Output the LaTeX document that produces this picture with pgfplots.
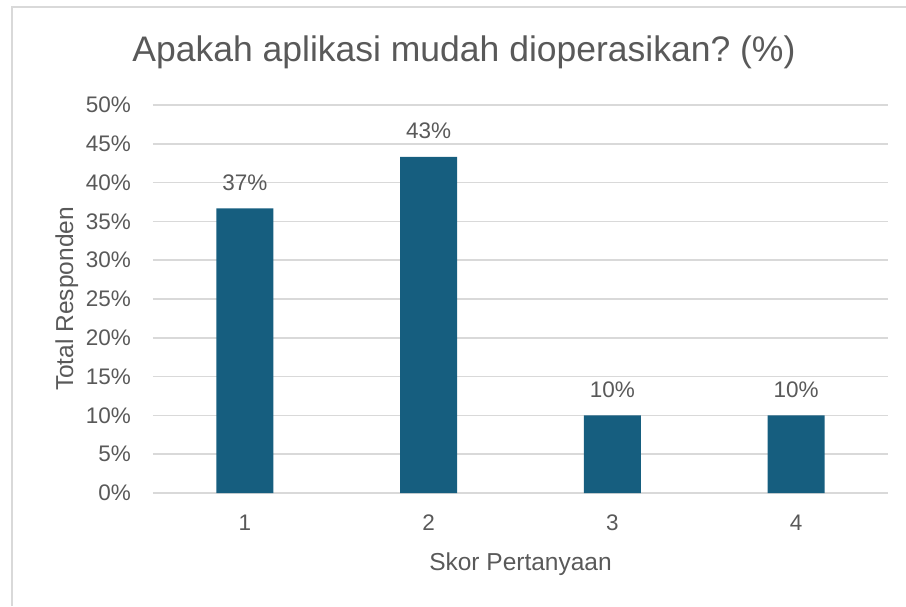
\documentclass[border=0pt]{standalone}
\usepackage{pgfplots}
\pgfplotsset{compat=1.18}
\usepackage{fontspec}
\setmainfont{Liberation Sans}
\definecolor{barc}{HTML}{165E7F}
\definecolor{txt}{HTML}{595959}
\definecolor{grd}{HTML}{D9D9D9}
\begin{document}
\frenchspacing
\begin{tikzpicture}[x=1pt,y=1pt]
\useasboundingbox (0,0) rectangle (906,606);
\draw[grd, line width=1.5pt] (12,0) -- (12,599) -- (906,599);
\begin{axis}[
  at={(153pt,113pt)}, anchor=south west,
  width=735pt, height=388pt, scale only axis,
  xmin=0.5, xmax=4.5, ymin=0, ymax=50,
  ybar, bar width=57pt,
  xtick={1,2,3,4}, ytick={0,5,...,50},
  /pgf/number format/assume math mode=true,
  yticklabel={\pgfmathprintnumber{\tick}\%},
  major tick length=0pt,
  axis x line=bottom, axis y line=left,
  x axis line style={grd, line width=1.5pt, -},
  y axis line style={draw=none},
  ymajorgrids, major grid style={grd, line width=1.5pt},
  tick label style={txt, font=\fontsize{22.5}{26}\selectfont, inner sep=0pt},
  yticklabel style={anchor=east, xshift=-22pt},
  xticklabel style={anchor=north, yshift=-22pt},
  xlabel={Skor Pertanyaan},
  ylabel={Total Responden},
  label style={txt, font=\fontsize{24.5}{28}\selectfont, inner sep=0pt},
  xlabel style={at={(axis description cs:0.5,-0.201)}, anchor=base},
  ylabel style={at={(axis description cs:-0.1088,0.5)}, anchor=base, rotate=0},
  title={Apakah aplikasi mudah dioperasikan?\ (\%)},
  title style={txt, font=\fontsize{35.5}{40}\selectfont, inner sep=0pt, at={(axis description cs:0.4231,1.0979)}, anchor=base},
  nodes near coords={\pgfmathprintnumber[fixed,precision=0]{\pgfplotspointmeta}\%},
  nodes near coords style={txt, font=\fontsize{22.5}{26}\selectfont, anchor=base, inner sep=0pt, yshift=18pt},
  clip=false,
]
\addplot[fill=barc, draw=none] coordinates {(1,36.67) (2,43.33) (3,10) (4,10)};
\end{axis}
\end{tikzpicture}
\end{document}
